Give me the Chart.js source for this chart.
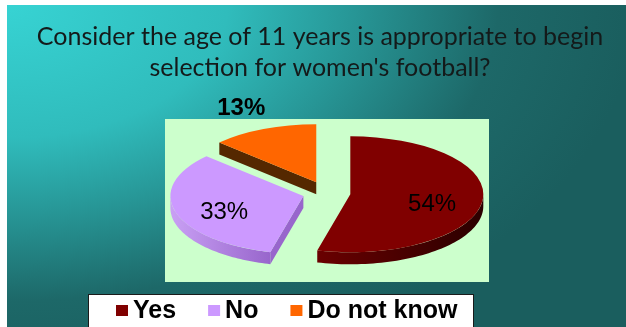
<!DOCTYPE html>
<html>
<head>
<meta charset="utf-8">
<script src="https://cdn.jsdelivr.net/npm/chart.js@4.4.1/dist/chart.umd.min.js"></script>
<style>
  html, body { margin: 0; padding: 0; background: #fff; }
  #marco { width: 626px; height: 327px; }
</style>
</head>
<body>
<div id="marco"><canvas id="graficaPastel" width="626" height="327"></canvas></div>
<script>
const categorias = ['Yes', 'No', 'Do not know'];
const valores = [54, 33, 13];
const titulo = ['Consider the age of 11 years is appropriate to begin', "selection for women's football?"];

// colores de la cara superior y de los costados (claro -> oscuro)
const coloresCara = ['#800000', '#cc99ff', '#ff6600'];
const coloresLado = [['#6a0000', '#2a0000'], ['#c9a0f4', '#9866cc'], ['#6e3600', '#552800']];
const separacion = [23.5, 24.6, 27];   // desplazamiento de cada porcion en px

const CENTRO = { x: 327, y: 193 };
const APLANADO = 0.436;
const GROSOR = 12;

function punto(arc, i, ang, r) {
  const mid = (arc.startAngle + arc.endAngle) / 2;
  const dx = Math.cos(mid) * separacion[i];
  const dy = Math.sin(mid) * separacion[i];
  return {
    x: CENTRO.x + dx + r * Math.cos(ang),
    y: CENTRO.y + APLANADO * (dy + r * Math.sin(ang))
  };
}

function degradado(ctx, i, x0, x1) {
  const g = ctx.createLinearGradient(x0, 0, x1, 0);
  g.addColorStop(0, coloresLado[i][0]);
  g.addColorStop(1, coloresLado[i][1]);
  return g;
}

const pastel3D = {
  id: 'pastel3D',
  beforeDraw(chart) {
    const ctx = chart.ctx;
    ctx.save();
    ctx.fillStyle = '#fff';
    ctx.fillRect(0, 0, chart.width, chart.height);
    // fondo degradado desde la esquina superior izquierda
    ctx.translate(7, 5);
    ctx.scale(1, 380 / 630);
    const g = ctx.createRadialGradient(0, 0, 0, 0, 0, 630);
    g.addColorStop(0, '#37d3d3');
    g.addColorStop(0.35, '#30bcbc');
    g.addColorStop(0.55, '#279696');
    g.addColorStop(0.78, '#1d6868');
    g.addColorStop(1, '#1a5e5e');
    ctx.fillStyle = g;
    ctx.fillRect(0, 0, 619, 322 * 630 / 380);
    ctx.restore();
  },
  beforeDatasetsDraw(chart) {
    const ctx = chart.ctx;
    const arcos = chart.getDatasetMeta(0).data;
    ctx.save();
    ctx.fillStyle = '#ccffcc';
    ctx.fillRect(165, 119, 324, 163);

    arcos.forEach((arc, i) => {
      const R = arc.outerRadius;
      // caras radiales que miran hacia abajo
      const bordes = [];
      if (Math.cos(arc.startAngle) < -1e-6) bordes.push(arc.startAngle);
      if (Math.cos(arc.endAngle) > 1e-6) bordes.push(arc.endAngle);
      bordes.forEach(ang => {
        const a = punto(arc, i, ang, 0);
        const b = punto(arc, i, ang, R);
        ctx.beginPath();
        ctx.moveTo(a.x, a.y);
        ctx.lineTo(b.x, b.y);
        ctx.lineTo(b.x, b.y + GROSOR);
        ctx.lineTo(a.x, a.y + GROSOR);
        ctx.closePath();
        ctx.fillStyle = coloresLado[i][1];
        ctx.fill();
      });
      // costado exterior visible (angulos entre 0 y PI)
      const ini = Math.max(arc.startAngle, 0);
      const fin = Math.min(arc.endAngle, Math.PI);
      if (fin > ini) {
        const pasos = 60;
        const arriba = [];
        for (let k = 0; k <= pasos; k++) {
          arriba.push(punto(arc, i, ini + (fin - ini) * k / pasos, R));
        }
        ctx.beginPath();
        arriba.forEach((p, k) => k ? ctx.lineTo(p.x, p.y) : ctx.moveTo(p.x, p.y));
        for (let k = arriba.length - 1; k >= 0; k--) ctx.lineTo(arriba[k].x, arriba[k].y + GROSOR);
        ctx.closePath();
        const xs = arriba.map(p => p.x);
        ctx.fillStyle = degradado(ctx, i, Math.min(...xs), Math.max(...xs));
        ctx.fill();
      }
    });
    ctx.restore();
  },
  beforeDatasetDraw(chart, args) {
    // cara superior: cada porcion se dibuja aplanada y separada
    const ctx = chart.ctx;
    args.meta.data.forEach((arc, i) => {
      const c = punto(arc, i, 0, 0);
      ctx.save();
      ctx.translate(c.x, c.y);
      ctx.scale(1, APLANADO);
      ctx.translate(-arc.x, -arc.y);
      arc.draw(ctx);
      ctx.restore();
    });
    return false;
  },
  afterDatasetsDraw(chart) {
    const ctx = chart.ctx;
    const arcos = chart.getDatasetMeta(0).data;
    ctx.save();
    ctx.textAlign = 'center';
    ctx.textBaseline = 'middle';
    ctx.fillStyle = '#000';
    arcos.forEach((arc, i) => {
      const mid = (arc.startAngle + arc.endAngle) / 2;
      const R = arc.outerRadius;
      let p;
      if (valores[i] >= 20) {
        p = punto(arc, i, mid, R * 0.62);
        p.y += GROSOR / 2;
        ctx.font = 'normal 24px "Liberation Sans", Arial, sans-serif';
      } else {
        p = punto(arc, i, mid, R * 1.42);
        p.y += 2;
        ctx.font = 'bold 24px "Liberation Sans", Arial, sans-serif';
      }
      ctx.fillText(valores[i] + '%', p.x, p.y);
    });
    ctx.restore();
  },
  afterDraw(chart) {
    // leyenda en recuadro blanco
    const ctx = chart.ctx;
    ctx.save();
    ctx.fillStyle = '#fff';
    ctx.fillRect(88, 294, 385, 40);
    ctx.strokeStyle = '#1a1a1a';
    ctx.lineWidth = 1;
    ctx.strokeRect(88.5, 294.5, 385, 40);
    ctx.font = 'bold 25px "Liberation Sans", Arial, sans-serif';
    ctx.textBaseline = 'alphabetic';
    let x = 116;
    categorias.forEach((c, i) => {
      ctx.fillStyle = coloresCara[i];
      ctx.fillRect(x, 305, 12, 11);
      ctx.fillStyle = '#000';
      ctx.fillText(c, x + 17, 318);
      x += 17 + ctx.measureText(c).width + 32;
    });
    ctx.restore();
  }
};

new Chart(document.getElementById('graficaPastel'), {
  type: 'pie',
  data: {
    labels: categorias,
    datasets: [{
      data: valores,
      backgroundColor: coloresCara,
      borderWidth: 0,
      radius: 133
    }]
  },
  options: {
    responsive: false,
    animation: false,
    events: [],
    layout: { padding: { left: 14 } },
    plugins: {
      legend: { display: false },
      tooltip: { enabled: false },
      title: {
        display: true,
        text: titulo,
        color: '#141a1a',
        font: { family: 'Lato', size: 25, weight: 'normal', lineHeight: 1.22 },
        padding: { top: 22, bottom: 8 }
      }
    }
  },
  plugins: [pastel3D]
});
</script>
</body>
</html>
